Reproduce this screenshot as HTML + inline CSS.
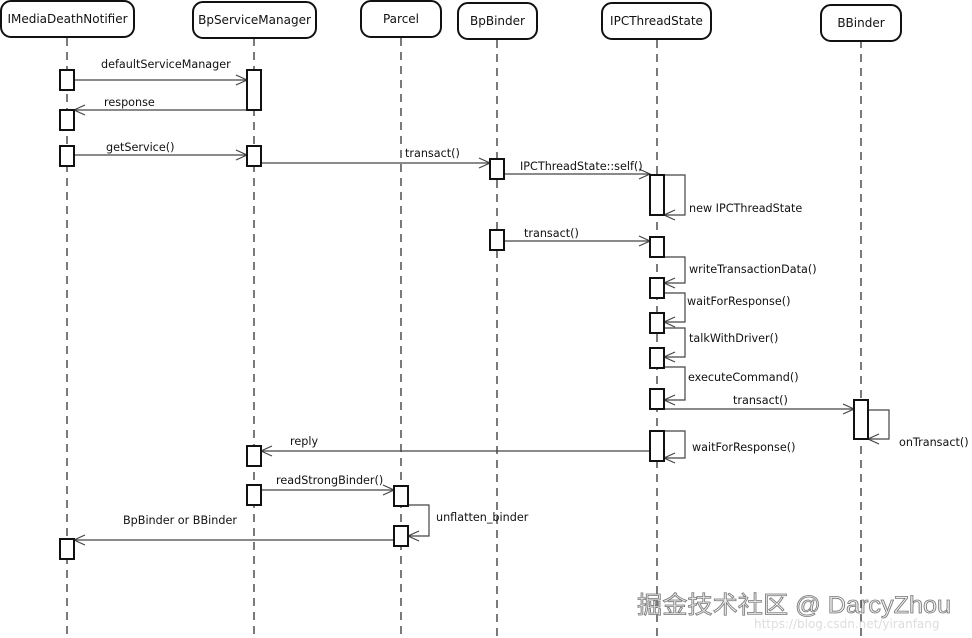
<!DOCTYPE html>
<html><head><meta charset="utf-8"><style>
html,body{margin:0;padding:0;background:#fff;}
svg{display:block;}
text{font-family:"DejaVu Sans","Liberation Sans",sans-serif;font-size:11.2px;fill:#111;}
.hd{font-size:12px;}
.ll{stroke:#333;stroke-width:1.3;stroke-dasharray:8,6;}
.box{fill:#fff;stroke:#111;stroke-width:2;}
.act{fill:#fff;stroke:#111;stroke-width:2;}
.m{stroke:#444;stroke-width:1.2;fill:none;}
</style></head><body>
<svg width="972" height="638" viewBox="0 0 972 638">
<line class="ll" x1="67" y1="38" x2="67" y2="638"/>
<line class="ll" x1="254" y1="38" x2="254" y2="638"/>
<line class="ll" x1="401" y1="38" x2="401" y2="638"/>
<line class="ll" x1="497" y1="40" x2="497" y2="638"/>
<line class="ll" x1="657" y1="40" x2="657" y2="638"/>
<line class="ll" x1="861" y1="40" x2="861" y2="638"/>
<rect class="box" x="1" y="1" width="133" height="36" rx="10"/>
<text class="hd" x="67.5" y="23" text-anchor="middle">IMediaDeathNotifier</text>
<rect class="box" x="193" y="2" width="123" height="36" rx="10"/>
<text class="hd" x="254.5" y="24" text-anchor="middle">BpServiceManager</text>
<rect class="box" x="361" y="1" width="80" height="36" rx="10"/>
<text class="hd" x="401" y="23" text-anchor="middle">Parcel</text>
<rect class="box" x="458" y="3" width="79" height="36" rx="10"/>
<text class="hd" x="497.5" y="25" text-anchor="middle">BpBinder</text>
<rect class="box" x="602" y="3" width="109" height="36" rx="10"/>
<text class="hd" x="656.5" y="25" text-anchor="middle">IPCThreadState</text>
<rect class="box" x="821" y="5" width="80" height="36" rx="10"/>
<text class="hd" x="861" y="27" text-anchor="middle">BBinder</text>

<g class="m">
<line x1="74" y1="80" x2="247" y2="80"/><polyline points="236,75 247,80 236,85"/>
<line x1="247" y1="110" x2="74" y2="110"/><polyline points="85,105 74,110 85,115"/>
<line x1="74" y1="155" x2="247" y2="155"/><polyline points="236,150 247,155 236,160"/>
<line x1="261" y1="163" x2="490" y2="163"/><polyline points="479,158 490,163 479,168"/>
<line x1="505" y1="174" x2="650" y2="174"/><polyline points="639,169 650,174 639,179"/>
<polyline points="664,175 685,175 685,215 664,215"/><polyline points="675,210 664,215 675,220"/>
<line x1="505" y1="241" x2="650" y2="241"/><polyline points="639,236 650,241 639,246"/>
<polyline points="664,257 685,257 685,283 664,283"/><polyline points="675,278 664,283 675,288"/>
<polyline points="664,293 685,293 685,322 664,322"/><polyline points="675,317 664,322 675,327"/>
<polyline points="664,328 685,328 685,357 664,357"/><polyline points="675,352 664,357 675,362"/>
<polyline points="664,367 685,367 685,400 664,400"/><polyline points="675,395 664,400 675,405"/>
<line x1="664" y1="409" x2="854" y2="409"/><polyline points="843,404 854,409 843,414"/>
<polyline points="868,410 889,410 889,439 868,439"/><polyline points="879,434 868,439 879,444"/>
<polyline points="664,431 685,431 685,458 664,458"/><polyline points="675,453 664,458 675,463"/>
<line x1="650" y1="451" x2="261" y2="451"/><polyline points="272,446 261,451 272,456"/>
<line x1="261" y1="490" x2="394" y2="490"/><polyline points="383,485 394,490 383,495"/>
<polyline points="408,505 429,505 429,536 408,536"/><polyline points="419,531 408,536 419,541"/>
<line x1="394" y1="540" x2="74" y2="540"/><polyline points="85,535 74,540 85,545"/>
</g>

<rect class="act" x="60" y="70" width="14" height="20"/>
<rect class="act" x="60" y="110" width="14" height="20"/>
<rect class="act" x="60" y="146" width="14" height="20"/>
<rect class="act" x="60" y="539" width="14" height="20"/>
<rect class="act" x="247" y="70" width="14" height="40"/>
<rect class="act" x="247" y="146" width="14" height="20"/>
<rect class="act" x="247" y="446" width="14" height="20"/>
<rect class="act" x="247" y="485" width="14" height="20"/>
<rect class="act" x="490" y="159" width="14" height="20"/>
<rect class="act" x="490" y="230" width="14" height="20"/>
<rect class="act" x="650" y="175" width="14" height="40"/>
<rect class="act" x="650" y="237" width="14" height="20"/>
<rect class="act" x="650" y="278" width="14" height="20"/>
<rect class="act" x="650" y="313" width="14" height="20"/>
<rect class="act" x="650" y="348" width="14" height="20"/>
<rect class="act" x="650" y="389" width="14" height="20"/>
<rect class="act" x="650" y="431" width="14" height="30"/>
<rect class="act" x="854" y="400" width="14" height="39"/>
<rect class="act" x="394" y="486" width="14" height="20"/>
<rect class="act" x="394" y="526" width="14" height="20"/>

<text x="101" y="68">defaultServiceManager</text>
<text x="104" y="106">response</text>
<text x="106" y="151">getService()</text>
<text x="405" y="157">transact()</text>
<text x="520" y="170">IPCThreadState::self()</text>
<text x="689" y="212">new IPCThreadState</text>
<text x="524" y="237">transact()</text>
<text x="689" y="273">writeTransactionData()</text>
<text x="687" y="305">waitForResponse()</text>
<text x="689" y="342">talkWithDriver()</text>
<text x="688" y="381">executeCommand()</text>
<text x="733" y="404">transact()</text>
<text x="899" y="446">onTransact()</text>
<text x="692" y="451">waitForResponse()</text>
<text x="290" y="445">reply</text>
<text x="276" y="484">readStrongBinder()</text>
<text x="436" y="521">unflatten_binder</text>
<text x="123" y="524">BpBinder or BBinder</text>

<text x="637" y="613" textLength="314" lengthAdjust="spacingAndGlyphs" style="font-family:'Liberation Sans','Noto Sans CJK SC',sans-serif;font-size:24px;fill:#eee;stroke:#777;stroke-width:0.8;">掘金技术社区 @ DarcyZhou</text>
<text x="754" y="628" style="font-size:12px;fill:#ddd;">https://blog.csdn.net/yiranfang</text>
</svg>
</body></html>
